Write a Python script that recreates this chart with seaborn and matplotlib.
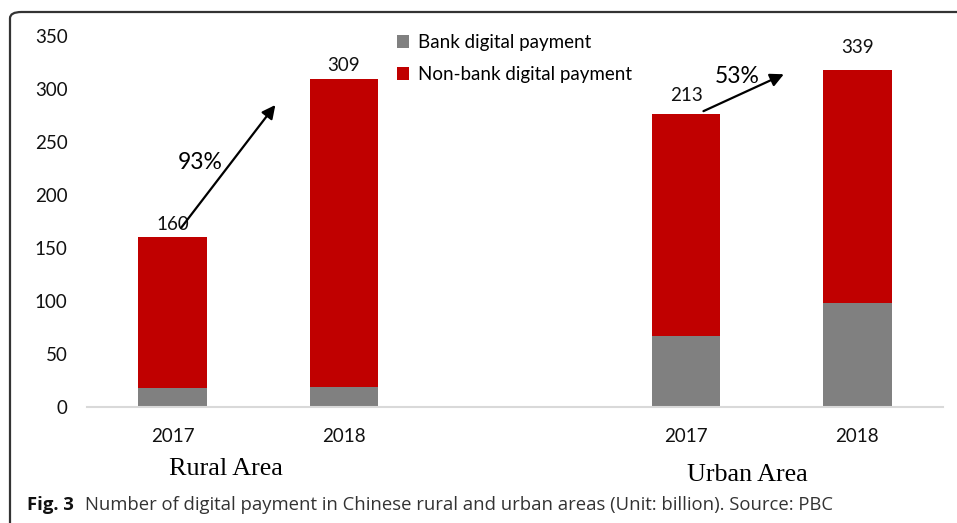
import matplotlib
matplotlib.use("Agg")
import matplotlib.pyplot as plt
import matplotlib.transforms as mtransforms
from matplotlib.patches import FancyBboxPatch, Patch
import pandas as pd
import seaborn as sns

# ---- data ----
slots = ["Rural 2017", "Rural 2018", "gap", "Urban 2017", "Urban 2018"]
bar_keys = ["Rural 2017", "Rural 2018", "Urban 2017", "Urban 2018"]
bank = [18, 19, 67, 98]
nonbank = [142, 290, 209, 220]
value_labels = ["160", "309", "213", "339"]
tick_labels = ["2017", "2018", "", "2017", "2018"]
areas = ["Rural Area", "Urban Area"]
growth = ["93%", "53%"]
series_names = ["Bank digital payment", "Non-bank digital payment"]
caption_bold = "Fig. 3"
caption_rest = "Number of digital payment in Chinese rural and urban areas (Unit: billion). Source: PBC"

RED = "#C00000"
GRAY = "#808080"
FONT = "Lato"

df = pd.DataFrame({"key": bar_keys, "bank": bank, "nonbank": nonbank})
df["total"] = df["bank"] + df["nonbank"]

W, H = 957, 523
fig = plt.figure(figsize=(W / 100, H / 100), dpi=100)
ax = fig.add_axes([87 / W, 1 - 407 / H, (943 - 87) / W, (407 - 36) / H])

sns.barplot(data=df, x="key", y="total", order=slots, color=RED, width=0.4,
            saturation=1, ax=ax, linewidth=0)
sns.barplot(data=df, x="key", y="bank", order=slots, color=GRAY, width=0.4,
            saturation=1, ax=ax, linewidth=0)

ax.set_xlim(-0.5, 4.5)
ax.set_ylim(0, 350)
ax.set_yticks(range(0, 351, 50))
ax.set_xticks(range(len(slots)))
ax.set_xticklabels(tick_labels)
ax.set_xlabel("")
ax.set_ylabel("")
for s in ["top", "right", "left"]:
    ax.spines[s].set_visible(False)
ax.spines["bottom"].set_color("#d9d9d9")
ax.spines["bottom"].set_linewidth(1.5)
ax.tick_params(axis="both", length=0, labelsize=13.5, labelcolor="#111111",
               labelfontfamily=FONT)
ax.tick_params(axis="x", pad=15)
ax.tick_params(axis="y", pad=14)

# value labels
xpos = [0, 1, 3, 4]
ylab = [172, 322, 294, 339]
for x, y, t in zip(xpos, ylab, value_labels):
    ax.text(x, y, t, ha="center", va="center", fontsize=13.5, family=FONT, color="#111111")

# growth arrows
ax.annotate("", xy=(0.61, 287), xytext=(0.04, 167),
            arrowprops=dict(arrowstyle="-|>", color="black", lw=1.6, mutation_scale=20))
ax.text(0.16, 231, growth[0], ha="center", va="center", fontsize=16.5, family=FONT)
ax.annotate("", xy=(3.585, 315), xytext=(3.086, 278),
            arrowprops=dict(arrowstyle="-|>", color="black", lw=1.6, mutation_scale=20))
ax.text(3.30, 312, growth[1], ha="center", va="center", fontsize=16.5, family=FONT)

# area labels
trans = mtransforms.blended_transform_factory(ax.transData, fig.transFigure)
ax.text(0.31, 1 - 469 / H, areas[0], transform=trans, ha="center", va="center",
        fontsize=18.8, family="Liberation Serif")
ax.text(3.36, 1 - 475 / H, areas[1], transform=trans, ha="center", va="center",
        fontsize=18.8, family="Liberation Serif")

# legend
handles = [Patch(facecolor=GRAY, edgecolor="none"), Patch(facecolor=RED, edgecolor="none")]
fig.legend(handles, series_names, loc="upper left", bbox_to_anchor=(397 / W, 1 - 34 / H),
           frameon=False, prop={"family": FONT, "size": 13.5},
           handlelength=0.65, handleheight=0.65, handletextpad=0.45, labelspacing=0.8,
           borderpad=0, borderaxespad=0)

# border
border = FancyBboxPatch((10 / W, -40 / H), (W + 40) / W, (H + 40 - 12) / H,
                        boxstyle="round,pad=0,rounding_size=0.012",
                        transform=fig.transFigure, fill=False, edgecolor="#333333",
                        lw=1.6, clip_on=False)
fig.patches.append(border)

# caption
fig.text(27 / W, 1 - 505 / H, caption_bold, ha="left", va="center", fontsize=13.3,
         family="Open Sans", weight="bold", color="#111111")
fig.text(85 / W, 1 - 505 / H, caption_rest, ha="left", va="center", fontsize=13.3,
         family="Open Sans", color="#333333")

fig.savefig("out.png", dpi=100)
